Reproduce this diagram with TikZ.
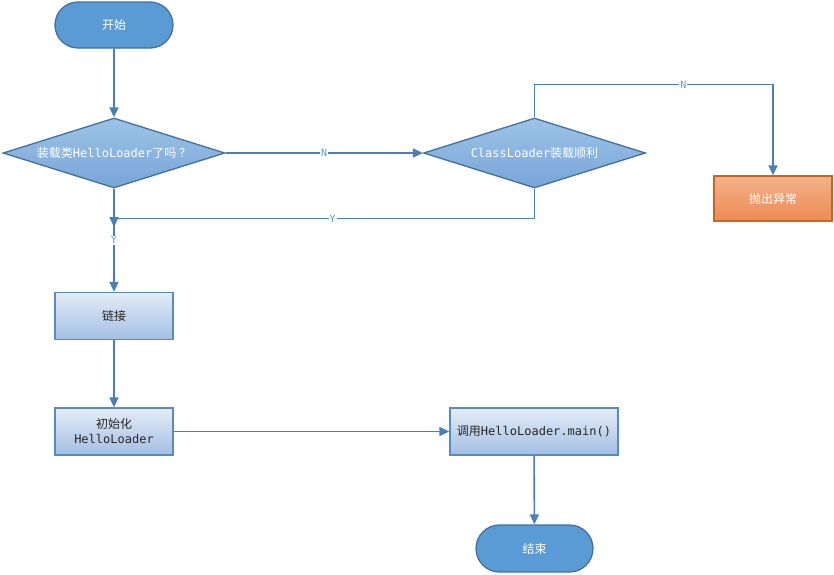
\documentclass[tikz,border=0pt]{standalone}
\usepackage{fontspec}
\setmainfont{DejaVu Sans Mono}
\newfontfamily\cjk{Noto Sans CJK SC}
\usetikzlibrary{shapes.geometric,shapes.misc,arrows.meta}
\definecolor{lineblue}{HTML}{4A7EBB}
\definecolor{termfill}{HTML}{5B9BD5}
\definecolor{termdraw}{HTML}{41719C}
\definecolor{diatop}{HTML}{9DC3E6}
\definecolor{diabot}{HTML}{78A5D8}
\definecolor{boxtop}{HTML}{E4ECF7}
\definecolor{boxbot}{HTML}{A3BFE4}
\definecolor{boxdraw}{HTML}{5A8AC6}
\definecolor{ortop}{HTML}{F4B28A}
\definecolor{orbot}{HTML}{EC8A55}
\definecolor{ordraw}{HTML}{C9651F}
\definecolor{lblblue}{HTML}{5B9BD5}
\tikzset{
  base/.style={font=\fontsize{12}{15}\selectfont, inner sep=0pt, line width=1.3pt, align=center},
  term/.style={base, rounded rectangle, fill=termfill, draw=termdraw, text=white, minimum width=118pt, minimum height=46pt},
  dia/.style={base, diamond, aspect=3.17, top color=diatop, bottom color=diabot, draw=termdraw, text=white, minimum width=222pt, minimum height=70pt},
  procbox/.style={base, rectangle, top color=boxtop, bottom color=boxbot, draw=boxdraw, text=black!85, minimum width=118pt, minimum height=47pt},
  errbox/.style={base, rectangle, top color=ortop, bottom color=orbot, draw=ordraw, text=white, minimum width=118pt, minimum height=45pt},
  arr/.style={draw=lineblue, line width=1.6pt, -{Triangle[length=10pt,width=9pt]}},
  lbl/.style={font=\fontsize{10}{11}\selectfont, text=lblblue, fill=white, inner sep=1pt}
}
\begin{document}
\begin{tikzpicture}[x=1pt,y=-1pt]
\useasboundingbox (0,0) rectangle (834,574);
\node[term] (start) at (114,25) {{\cjk 开始}};
\node[dia] (d1) at (114,153) {{\cjk 装载类}HelloLoader{\cjk 了吗 ？}};
\node[dia] (d2) at (534.5,153) {ClassLoader{\cjk 装载顺利}};
\node[errbox] (throw) at (773,198.5) {{\cjk 抛出异常}};
\node[procbox] (link) at (114,316) {{\cjk 链接}};
\node[procbox] (init) at (114,431.5) {{\cjk 初始化}\\HelloLoader};
\node[procbox, minimum width=168pt] (call) at (534,431.5) {{\cjk 调用}HelloLoader.main()};
\node[term, minimum width=117pt, minimum height=47pt] (end) at (534.5,548.5) {{\cjk 结束}};
\coordinate (yj) at (114,227);
\draw[arr] (start) -- (d1);
\draw[arr] (d1) -- node[lbl]{N} (d2);
\draw[arr] (d2.north) -- ++(0,-33) -| node[lbl,pos=0.312]{N} (throw.north);
\draw[arr] (d2.south) -- ++(0,30) -| node[lbl,pos=0.24]{Y} (yj);
\draw[arr] (d1) -- node[lbl]{Y} (link);
\draw[arr] (link) -- (init);
\draw[arr] (init) -- (call);
\draw[arr] (call) -- (end);
\end{tikzpicture}
\end{document}
